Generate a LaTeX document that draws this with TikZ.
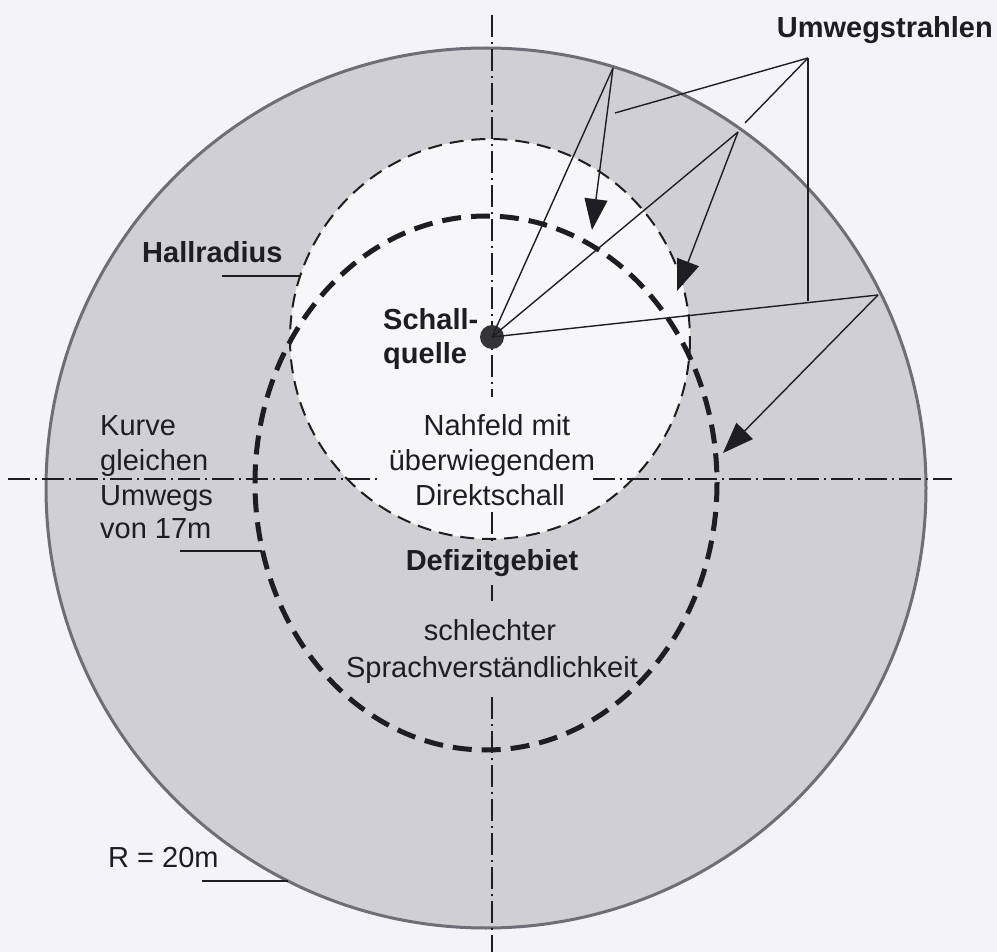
\documentclass[tikz,border=0pt]{standalone}
\usepackage{fontspec}
\setmainfont{Liberation Sans}
\usetikzlibrary{arrows.meta}
\definecolor{bg}{HTML}{F4F4F8}
\definecolor{ring}{HTML}{CFCFD4}
\definecolor{inner}{HTML}{F7F7FA}
\definecolor{edge}{HTML}{6E6E76}
\definecolor{ink}{HTML}{1E1E22}
\begin{document}
\begin{tikzpicture}[x=1pt,y=-1pt,
  lbl/.style={inner sep=0pt, text=ink, font=\fontsize{29pt}{34pt}\selectfont},
  blbl/.style={lbl, font=\fontsize{29pt}{34pt}\selectfont\bfseries},
  axis/.style={ink, line width=1.5pt, dash pattern=on 22pt off 5pt on 2pt off 5pt},
  hallline/.style={ink, line width=2pt, dash pattern=on 14pt off 8pt},
  umwegline/.style={ink, line width=5pt, dash pattern=on 19pt off 10pt},
  ray/.style={ink, line width=1.4pt},
  arrowray/.style={ray, -{Triangle[length=31pt,width=23pt]}},
  leader/.style={ink, line width=1.4pt}]
\useasboundingbox (0,0) rectangle (997,952);
\fill[bg] (0,0) rectangle (997,952);
% room circle and reverberation radius area
\fill[ring] (486,488) circle[radius=440];
\fill[inner] (490,339) circle[radius=200];
\draw[edge, line width=3pt] (486,488) circle[radius=440];
% axes
\draw[axis] (492,15) -- (492,397);
\draw[axis] (492,512) -- (492,546);
\draw[axis] (492,585) -- (492,601);
\draw[axis] (492,697) -- (492,952);
\draw[axis] (8,479) -- (381,479);
\draw[axis] (593,479) -- (952,479);
% curves
\draw[hallline] (490,339) circle[radius=200];
\draw[umwegline] (486,483) ellipse[x radius=231, y radius=267];
% coordinates
\coordinate (A) at (613,68);
\coordinate (B) at (738,132);
\coordinate (C) at (878,295);
\coordinate (TA) at (592,230);
\coordinate (TB) at (677,291);
\coordinate (TC) at (723,453);
\coordinate (J) at (808,58);
\coordinate (L1) at (615,113);
\coordinate (L2) at (745,123);
\coordinate (L3) at (808,301);
\coordinate (H1) at (222,276);
\coordinate (H2) at (300,276);
\coordinate (K1) at (180,551);
\coordinate (K2) at (262,551);
\coordinate (R1) at (202,881);
\coordinate (R2) at (288,881);
% source
\node[circle, fill=ink!90, inner sep=0pt, minimum size=24pt] (src) at (492,337) {};
% rays
\draw[ray] (src.center) -- (A);
\draw[ray] (src.center) -- (B);
\draw[ray] (src.center) -- (C);
\draw[arrowray] (A) -- (TA);
\draw[arrowray] (B) -- (TB);
\draw[arrowray] (C) -- (TC);
% leaders
\draw[leader] (J) -- (L1);
\draw[leader] (J) -- (L2);
\draw[leader] (J) -- (L3);
\draw[leader] (H1) -- (H2);
\draw[leader] (K1) -- (K2);
\draw[leader] (R1) -- (R2);
% texts
\node[blbl, anchor=base east] (umw) at (993,38) {Umwegstrahlen};
\node[blbl, anchor=base west] (hall) at (142,263) {Hallradius};
\node[blbl, anchor=base west] (sq1) at (383,330) {Schall-};
\node[blbl, anchor=base west] (sq2) at (383,363) {quelle};
\node[lbl, anchor=base] (nf1) at (497,435) {Nahfeld mit};
\node[lbl, anchor=base] (nf2) at (492,470) {überwiegendem};
\node[lbl, anchor=base] (nf3) at (490,505) {Direktschall};
\node[lbl, anchor=base west] (ku1) at (100,435) {Kurve};
\node[lbl, anchor=base west] (ku2) at (100,470) {gleichen};
\node[lbl, anchor=base west] (ku3) at (100,505) {Umwegs};
\node[lbl, anchor=base west] (ku4) at (100,538) {von 17m};
\node[blbl, anchor=base] (def) at (492,570) {Defizitgebiet};
\node[lbl, anchor=base] (sv1) at (490,640) {schlechter};
\node[lbl, anchor=base] (sv2) at (492,677) {Sprachverständlichkeit};
\node[lbl, anchor=base west] (rr) at (108,867) {R = 20m};
\end{tikzpicture}
\end{document}
